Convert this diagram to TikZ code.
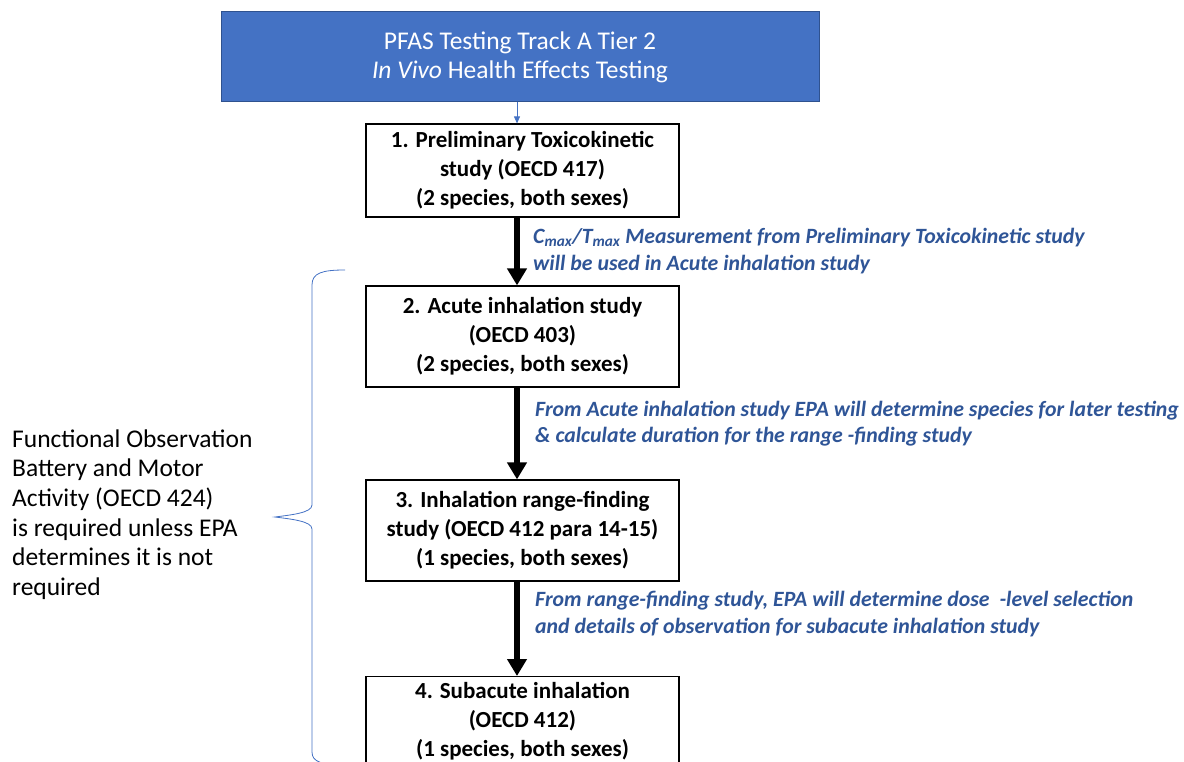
\documentclass[tikz,border=0pt]{standalone}
\usepackage{fontspec}
\setmainfont{Carlito}
\usetikzlibrary{arrows.meta}
\definecolor{hdrfill}{HTML}{4472C4}
\definecolor{hdrline}{HTML}{2F528F}
\definecolor{notecol}{HTML}{2F5597}
\definecolor{bracecol}{HTML}{4472C4}
\tikzset{
  stepbox/.style={draw=black, line width=1.2pt, minimum width=313pt, align=center, inner sep=0pt,
    font=\fontsize{23}{29}\selectfont\bfseries},
  hdrbox/.style={draw=hdrline, line width=1pt, fill=hdrfill, text=white, minimum width=598pt, minimum height=90pt,
    align=center, inner sep=0pt, font=\fontsize{25.5}{29}\selectfont},
  bigarrow/.style={line width=6pt, -{Triangle[width=19pt,length=17pt]}},
  thinarrow/.style={draw=bracecol, line width=0.8pt, -{Triangle[width=6pt,length=7pt]}},
  note/.style={anchor=west, align=left, inner sep=0pt, text=notecol,
    font=\fontsize{21.8}{26.5}\selectfont\bfseries\itshape},
  sidetext/.style={anchor=west, align=left, inner sep=0pt, font=\fontsize{25.5}{29.6}\selectfont},
}
\begin{document}
\begin{tikzpicture}[x=1pt,y=-1pt]
\useasboundingbox (0,0) rectangle (1184,762);
\node[hdrbox] (hdr) at (520,57) {PFAS Testing Track A Tier 2\\\textit{In Vivo} Health Effects Testing};
\node[stepbox, minimum height=93pt] (b1) at (522.5,170.5) {1. Preliminary Toxicokinetic\\study (OECD 417)\\(2 species, both sexes)};
\node[stepbox, minimum height=101pt] (b2) at (522.5,336.5) {2. Acute inhalation study\\(OECD 403)\\(2 species, both sexes)};
\node[stepbox, minimum height=101pt] (b3) at (522.5,530.5) {3. Inhalation range-finding\\study (OECD 412 para 14-15)\\(1 species, both sexes)};
\node[stepbox, minimum height=90pt, anchor=north] (b4) at (522.5,676) {4. Subacute inhalation\\(OECD 412)\\(1 species, both sexes)};
\coordinate (ax) at (517,0);
\draw[thinarrow] (hdr.south -| ax) -- (b1.north -| ax);
\draw[bigarrow] (b1.south -| ax) -- (b2.north -| ax);
\draw[bigarrow] (b2.south -| ax) -- (b3.north -| ax);
\draw[bigarrow] (b3.south -| ax) -- (b4.north -| ax);
\node[note] (n1) at (533,251) {C\textsubscript{max}/T\textsubscript{max} Measurement from Preliminary Toxicokinetic study\\will be used in Acute inhalation study};
\node[note] (n2) at (535,423.5) {From Acute inhalation study EPA will determine species for later testing\\\& calculate duration for the range -finding study};
\node[note] (n3) at (535,614) {From range-finding study, EPA will determine dose\ \ -level selection\\and details of observation for subacute inhalation study};
\node[sidetext] (side) at (12,514.5) {Functional Observation\\Battery and Motor\\Activity (OECD 424)\\is required unless EPA\\determines it is not\\required};
\coordinate (bt) at (345,270);
\coordinate (tip) at (275,517);
\coordinate (bb) at (345,765);
\draw[bracecol, line width=0.8pt] (bt) .. controls (322,270) and (312,273) .. (312,285)
  -- (312,505) .. controls (312,513) and (290,515) .. (tip)
  .. controls (290,519) and (312,521) .. (312,529)
  -- (312,752) .. controls (312,762) and (322,765) .. (bb);
\end{tikzpicture}
\end{document}
